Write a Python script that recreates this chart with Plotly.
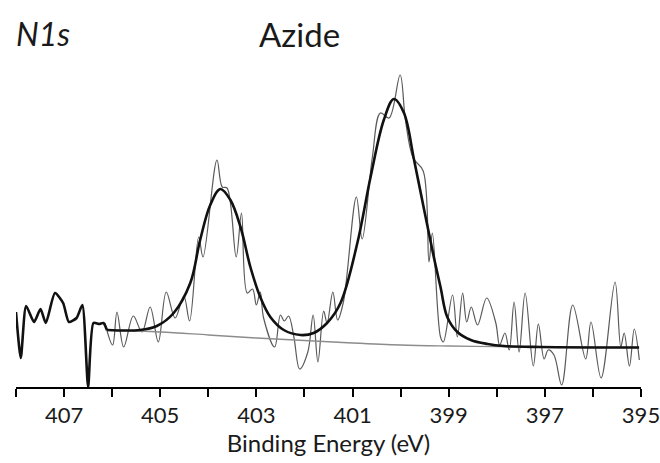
import plotly.graph_objects as go

# ---- data (binding energy in eV, intensity in arbitrary counts) ----
left_E = [408.00, 407.90, 407.79, 407.625, 407.49, 407.38, 407.19, 407.02, 406.90,
          406.74, 406.62, 406.50, 406.39, 406.27, 406.18, 406.11]
left_I = [75, 29, 81, 65, 78, 64, 94, 84, 65, 69, 82, 0, 64, 63, 64, 57]

raw_E = [406.15, 405.99, 405.90, 405.76, 405.56, 405.38, 405.21, 405.04, 404.875,
         404.69, 404.51, 404.39, 404.20, 404.11, 403.82, 403.71, 403.61, 403.42,
         403.31, 403.19, 403.08, 403.00, 402.92, 402.85, 402.62, 402.50, 402.42,
         402.33, 402.22, 402.10, 401.93, 401.82, 401.72, 401.60, 401.53, 401.41,
         401.31, 401.19, 400.92, 400.80, 400.59, 400.42, 400.24, 400.01, 399.90,
         399.74, 399.53, 399.41, 399.34, 399.17, 399.11, 398.92, 398.82, 398.71,
         398.625, 398.53, 398.40, 398.21, 398.02, 397.94, 397.83, 397.74, 397.64,
         397.535, 397.41, 397.24, 397.135, 397.015, 396.93, 396.81, 396.65, 396.42,
         396.15, 396.04, 395.83, 395.54, 395.42, 395.35, 395.24, 395.14, 395.035]
raw_I = [64, 42, 75, 40, 71, 55, 80, 45, 95,
         69, 91, 66, 150, 130, 227, 200, 199, 130,
         174, 94, 98, 82, 95, 69, 40, 72, 66,
         71, 50, 18, 35, 72, 25, 76, 64, 95,
         67, 85, 190, 148, 229, 274, 269, 312, 267,
         229, 216, 125, 154, 50, 45, 92, 50, 94,
         65, 80, 62, 89, 64, 42, 54, 37, 85,
         35, 94, 21, 63, 28, 37, 32, 2, 82,
         28, 65, 9, 105, 40, 54, 21, 58, 27]

fit_E = [406.11, 405.42, 405.07, 404.72, 404.375, 404.17, 403.96, 403.75, 403.54,
         403.33, 403.125, 402.92, 402.71, 402.43, 402.08, 401.81, 401.53, 401.25,
         400.90, 400.625, 400.35, 400.14, 399.93, 399.72, 399.51, 399.31, 399.17,
         399.03, 398.82, 398.54, 398.19, 397.85, 397.08, 395.04]
fit_I = [57, 57, 61, 74, 104, 147, 182, 198, 187,
         160, 120, 90, 70, 57, 52, 54, 64, 84,
         144, 210, 267, 288, 274, 227, 177, 130, 100,
         70, 55, 47, 43, 41, 40, 39.5]

bg_E = [406.11, 405.0, 404.0, 403.0, 402.0, 401.0, 400.0, 399.0, 398.0, 397.0, 395.04]
bg_I = [57, 55, 52, 49, 46.5, 44, 42, 41, 40.3, 40, 39.5]

tick_vals = list(range(395, 409))
tick_text = [str(v) if v % 2 == 1 else "" for v in tick_vals]

FONT = "Lato, Calibri, Carlito, sans-serif"

fig = go.Figure()
fig.add_trace(go.Scatter(x=raw_E, y=raw_I, mode="lines", line=dict(color="#5a5a5a", width=1.2, shape="spline", smoothing=1.0), showlegend=False))
fig.add_trace(go.Scatter(x=bg_E, y=bg_I, mode="lines", line=dict(color="#8c8c8c", width=1.3, shape="spline"), showlegend=False))
fig.add_trace(go.Scatter(x=fit_E, y=fit_I, mode="lines", line=dict(color="#111111", width=2.6, shape="spline", smoothing=1.0), showlegend=False))
fig.add_trace(go.Scatter(x=left_E, y=left_I, mode="lines", line=dict(color="#111111", width=2.6, shape="spline", smoothing=0.6), showlegend=False))

fig.update_layout(
    width=660, height=463,
    margin=dict(l=16, r=19, t=20, b=76, autoexpand=False),
    paper_bgcolor="white", plot_bgcolor="white",
    font=dict(family=FONT, color="#1a1a1a"),
    xaxis=dict(range=[408, 395], autorange=False, automargin=False, showgrid=False, zeroline=False,
               showline=True, linecolor="black", linewidth=1.5,
               ticks="outside", ticklen=8, tickwidth=1.5, tickcolor="black",
               tickvals=tick_vals, ticktext=tick_text, ticklabeloverflow="allow",
               tickfont=dict(size=22, family=FONT, color="#1a1a1a"),
               title=dict(text="Binding Energy (eV)", font=dict(size=24, family=FONT, color="#1a1a1a"), standoff=4)),
    yaxis=dict(range=[0, 367], autorange=False, visible=False),
    annotations=[
        dict(text="<i>N1s</i>", xref="paper", yref="paper", x=-0.003, y=0.962, xanchor="left", yanchor="middle",
             showarrow=False, font=dict(size=32, family=FONT, color="#1a1a1a")),
        dict(text="Azide", xref="paper", yref="paper", x=0.453, y=0.962, xanchor="center", yanchor="middle",
             showarrow=False, font=dict(size=33, family=FONT, color="#1a1a1a")),
    ],
)

fig.write_html("out.html")
